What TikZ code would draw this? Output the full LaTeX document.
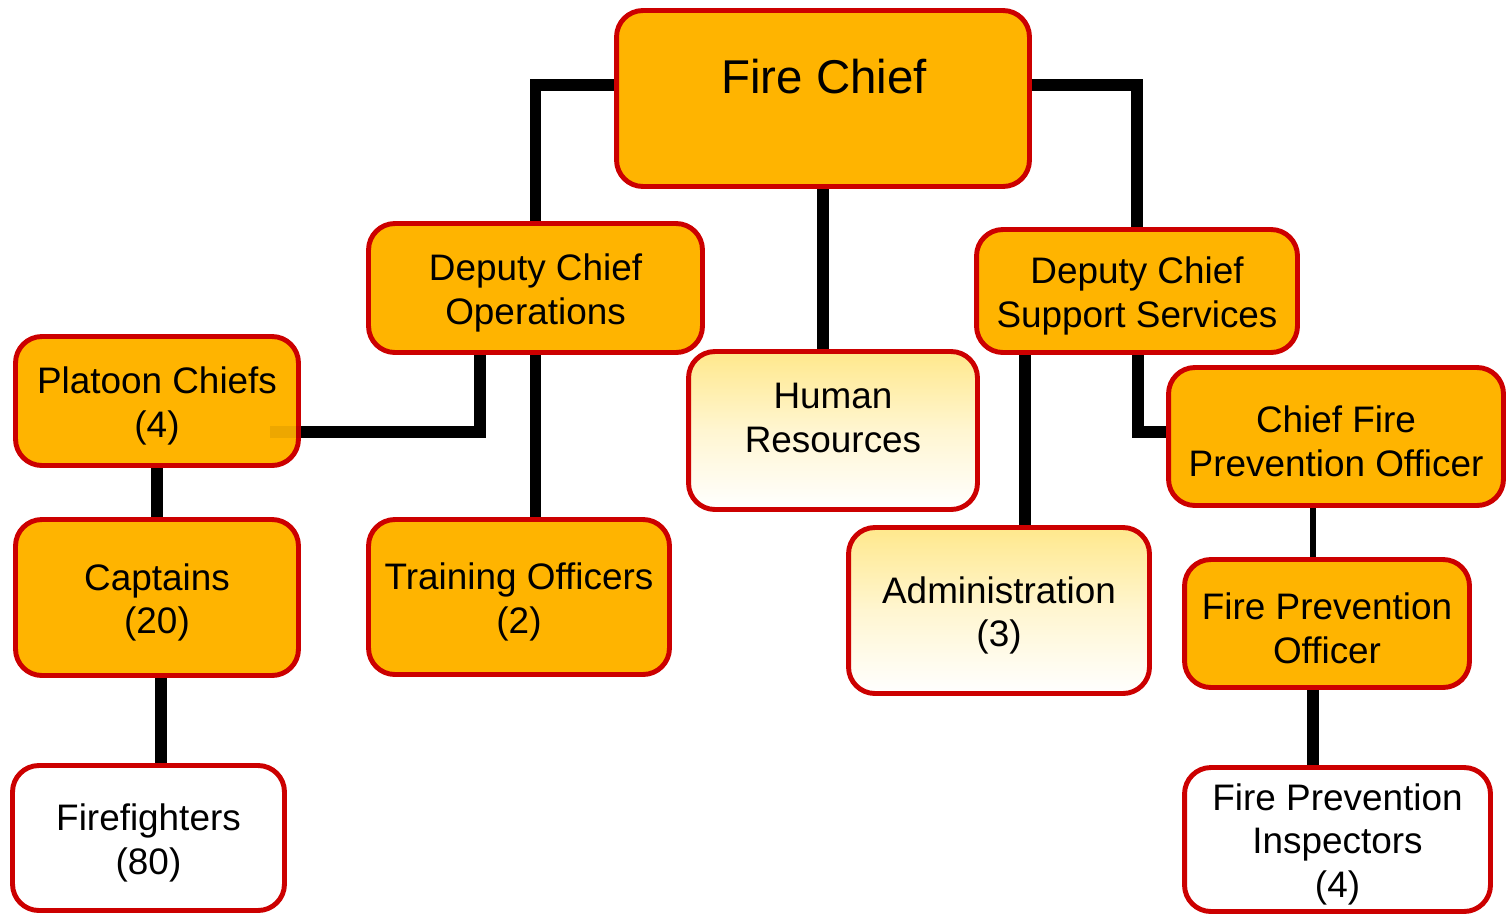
\documentclass[tikz,border=0pt]{standalone}
\usepackage{fontspec}
\setmainfont{Liberation Sans}
\usetikzlibrary{backgrounds}
\definecolor{orangefill}{HTML}{FFB400}
\definecolor{boxred}{HTML}{CC0000}
\definecolor{gradtop}{HTML}{FFE88C}
\tikzset{
  box/.style={draw=boxred, line width=2.8pt, rounded corners=15pt, inner sep=0pt},
  org/.style={box, fill=orangefill},
  soft/.style={box, top color=gradtop, bottom color=white, middle color=gradtop!40!white},
  plain/.style={box, fill=white},
  conn/.style={line width=6.3pt, draw=black},
  thinconn/.style={line width=3.4pt, draw=black},
  lbl/.style={align=center, inner sep=0pt, font=\fontsize{21}{25}\selectfont},
  biglbl/.style={align=center, inner sep=0pt, font=\fontsize{27}{32}\selectfont},
}
\begin{document}
\begin{tikzpicture}[x=0.02cm, y=-0.02cm]
\useasboundingbox (0,0) rectangle (1506,913);
\clip (0,0) rectangle (1506,913);

% boxes
\node[org,  minimum width=8.26cm, minimum height=3.52cm] (fc)   at (823,98.5)   {};
\node[org,  minimum width=6.68cm, minimum height=2.58cm] (dco)  at (535.5,288)  {};
\node[org,  minimum width=6.42cm, minimum height=2.46cm] (dcss) at (1137,291)   {};
\node[soft, minimum width=5.78cm, minimum height=3.16cm] (hr)   at (833,430.5)  {};
\node[org,  minimum width=5.66cm, minimum height=2.58cm] (pc)   at (157,401)    {};
\node[org,  minimum width=5.66cm, minimum height=3.12cm] (cap)  at (157,597.5)  {};
\node[org,  minimum width=6.02cm, minimum height=3.10cm] (tr)   at (519,597)    {};
\node[soft, minimum width=6.02cm, minimum height=3.32cm] (adm)  at (999,610.5)  {};
\node[org,  minimum width=6.70cm, minimum height=2.76cm] (cfpo) at (1336,436.5) {};
\node[org,  minimum width=5.70cm, minimum height=2.56cm] (fpo)  at (1327,623.5) {};
\node[plain,minimum width=6.12cm, minimum height=2.88cm] (fpi)  at (1337.5,839.5) {};
\node[plain,minimum width=5.44cm, minimum height=2.90cm] (ff)   at (148.5,838)  {};

% labels
\node[biglbl] (fct) at (824,77) {Fire Chief};
\node[lbl] (dcot)  at ([yshift=-2.8pt]dco)  {Deputy Chief\\Operations};
\node[lbl] (dcsst) at ([yshift=-2.8pt]dcss) {Deputy Chief\\Support Services};
\node[lbl] (hrt)   at ([yshift=7pt]hr)      {Human\\Resources};
\node[lbl] (pct)   at ([yshift=-2.8pt]pc)   {Platoon Chiefs\\(4)};
\node[lbl] (capt)  at ([yshift=-2.8pt]cap)  {Captains\\(20)};
\node[lbl] (trt)   at ([yshift=-2.8pt]tr)   {Training Officers\\(2)};
\node[lbl] (admt)  at ([yshift=-2.8pt]adm)  {Administration\\(3)};
\node[lbl] (cfpot) at ([yshift=-2.8pt]cfpo) {Chief Fire\\Prevention Officer};
\node[lbl] (fpot)  at ([yshift=-2.8pt]fpo)  {Fire Prevention\\Officer};
\node[lbl] (fpit)  at ([yshift=-2.8pt]fpi)  {Fire Prevention\\Inspectors\\(4)};
\node[lbl] (fft)   at ([yshift=-2.8pt]ff)   {Firefighters\\(80)};

% connectors
\begin{scope}[on background layer]
  \draw[conn] (fc.west |- 0,85) -| (dco.north);
  \draw[conn] (fc.east |- 0,85) -| (dcss.north);
  \draw[conn] (fc.south) -- (fc.south |- hr.north);
  \draw[conn] (dco.south -| 480,0) |- (pc.east |- 0,432);
  \draw[conn] (dco.south) -- (dco.south |- tr.north);
  \draw[conn] (pc.south) -- (cap.north);
  \draw[conn] (cap.south -| 161,0) -- (ff.north -| 161,0);
  \draw[conn] (dcss.south -| 1025,0) -- (adm.north -| 1025,0);
  \draw[conn] (dcss.south -| 1138,0) |- (cfpo.west |- 0,432);
  \draw[thinconn] (cfpo.south -| 1313,0) -- (fpo.north -| 1313,0);
  \draw[conn] (fpo.south -| 1313,0) -- (fpi.north -| 1313,0);
\end{scope}
\draw[line width=6.3pt, draw=black, opacity=0.07] (pc.east |- 0,432) -- ++(-31,0);
\end{tikzpicture}
\end{document}
